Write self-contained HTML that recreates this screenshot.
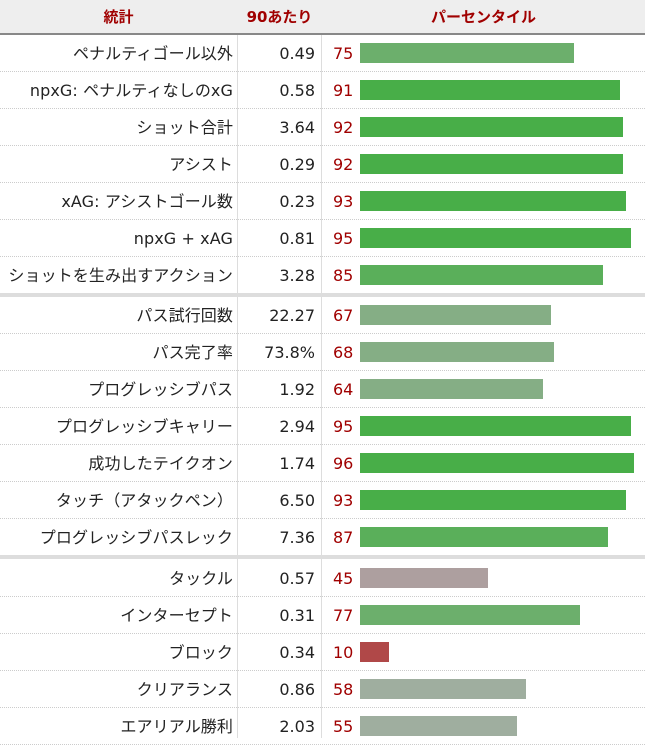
<!DOCTYPE html><html><head><meta charset="utf-8"><style>
body{margin:0;width:645px;height:738px;overflow:hidden;background:#fff;font-family:"DejaVu Sans","Noto Sans CJK JP",sans-serif;position:relative}
.hd{position:absolute;left:0;top:0;width:645px;height:33px;background:#eee;border-bottom:2px solid #888;color:#a00000;font-weight:bold;font-size:15px}
.hd div{position:absolute;top:0;line-height:35px}
.v{position:absolute;top:0;bottom:0;width:1px;background:#ddd}
.r{position:absolute;left:0;width:645px;height:36px;border-bottom:1px dotted #ccc;font-size:15px;color:#222}
.r .a{position:absolute;right:412px;line-height:38px;white-space:nowrap;font-size:16px;letter-spacing:0.1px}
.r .b{position:absolute;right:330px;line-height:38px;font-size:16px}
.r .c{position:absolute;left:333px;line-height:38px;color:#a00000;font-size:16px}
.r .bar{position:absolute;left:360px;top:8px;height:20px}
.sep{position:absolute;left:0;width:645px;height:4px;background:#ddd}
</style></head><body>
<div class="v" style="left:237px"></div><div class="v" style="left:321px"></div>
<div class="hd"><div style="left:0;width:237px;text-align:center">統計</div><div style="left:238px;width:83px;text-align:center">90あたり</div><div style="left:322px;width:323px;text-align:center">パーセンタイル</div></div>
<div id="rows"></div>
<script>
var d=[["ペナルティゴール以外","0.49",75],["npxG: ペナルティなしのxG","0.58",91],["ショット合計","3.64",92],["アシスト","0.29",92],["xAG: アシストゴール数","0.23",93],["npxG + xAG","0.81",95],["ショットを生み出すアクション","3.28",85],
["パス試行回数","22.27",67],["パス完了率","73.8%",68],["プログレッシブパス","1.92",64],["プログレッシブキャリー","2.94",95],["成功したテイクオン","1.74",96],["タッチ（アタックペン）","6.50",93],["プログレッシブパスレック","7.36",87],
["タックル","0.57",45],["インターセプト","0.31",77],["ブロック","0.34",10],["クリアランス","0.86",58],["エアリアル勝利","2.03",55]];
function col(p){if(p>=90)return"#48ae48";if(p>=80)return"#5aaf5a";if(p>=70)return"#6caf6c";if(p>=60)return"#85ae85";if(p>=50)return"#9fae9f";if(p>=30)return"#ad9f9f";return"#b04848";}
var h="";
d.forEach(function(r,i){var t=i<7?35+37*i:i<14?297+37*(i-7):560+37*(i-14);
h+='<div class="r" style="top:'+t+'px"><span class="a">'+r[0]+'</span><span class="b">'+r[1]+'</span><span class="c">'+r[2]+'</span><div class="bar" style="width:'+Math.round(r[2]*2.855)+'px;background:'+col(r[2])+'"></div></div>';});
h+='<div class="sep" style="top:293px"></div><div class="sep" style="top:555px"></div>';
document.getElementById("rows").innerHTML=h;
</script>
</body></html>
